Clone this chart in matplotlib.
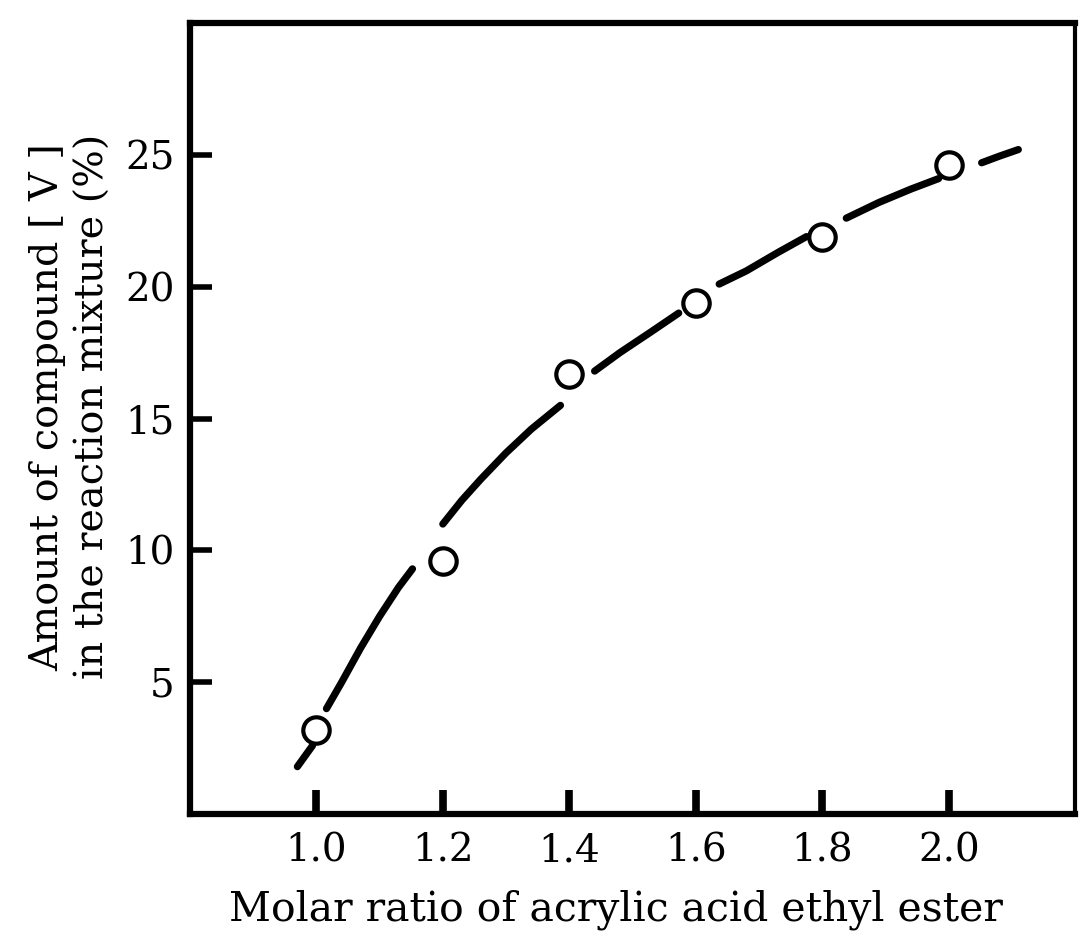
import numpy as np
import matplotlib
matplotlib.use("Agg")
import matplotlib.pyplot as plt

# measured points
ratio = [1.0, 1.2, 1.4, 1.6, 1.8, 2.0]
amount = [3.2, 9.6, 16.7, 19.4, 21.9, 24.6]

# hand-drawn dashed trend curve, NaN splits the dashes
curve_x = [0.97, 0.994, np.nan,
           1.016, 1.04, 1.07, 1.10, 1.13, 1.152, np.nan,
           1.20, 1.23, 1.26, 1.30, 1.34, 1.386, np.nan,
           1.44, 1.48, 1.53, 1.573, np.nan,
           1.637, 1.68, 1.73, 1.775, np.nan,
           1.838, 1.89, 1.94, 1.984, np.nan,
           2.052, 2.08, 2.11]
curve_y = [1.8, 2.6, np.nan,
           4.0, 5.0, 6.3, 7.5, 8.6, 9.3, np.nan,
           11.0, 11.9, 12.7, 13.7, 14.6, 15.5, np.nan,
           16.8, 17.5, 18.3, 19.0, np.nan,
           20.1, 20.6, 21.3, 21.9, np.nan,
           22.6, 23.2, 23.7, 24.1, np.nan,
           24.7, 24.95, 25.2]

xticks = [1.0, 1.2, 1.4, 1.6, 1.8, 2.0]
yticks = [5, 10, 15, 20, 25]

plt.rcParams['font.family'] = ['DejaVu Serif']

fig = plt.figure(figsize=(10.85, 9.39), dpi=100)
ax = fig.add_axes([0.175, 0.133, 0.816, 0.8425])

ax.plot(curve_x, curve_y, color='black', lw=5.2, solid_capstyle='round')
ax.plot(ratio, amount, 'o', ms=19, mfc='white', mec='black', mew=3.0)

ax.set_xlim(0.8, 2.2)
ax.set_ylim(0, 30)
ax.set_xticks(xticks)
ax.set_xticklabels(['%.1f' % v for v in xticks])
ax.set_yticks(yticks)
ax.tick_params(axis='both', direction='in', labelsize=28, color='black')
ax.tick_params(axis='x', length=17, width=5.5, pad=13)
ax.tick_params(axis='y', length=16, width=4, pad=11)

for side in ['left', 'bottom', 'top']:
    ax.spines[side].set_linewidth(4.5)
ax.spines['right'].set_linewidth(3)

ax.set_xlabel('Molar ratio of acrylic acid ethyl ester', fontsize=29.5)
ax.xaxis.set_label_coords(0.481, -0.095)
ax.set_ylabel('Amount of compound [ V ]\nin the reaction mixture (%)',
              fontsize=28.5, linespacing=1.3)
ax.yaxis.set_label_coords(-0.088, 0.515)

fig.savefig('out.png', dpi=100)
